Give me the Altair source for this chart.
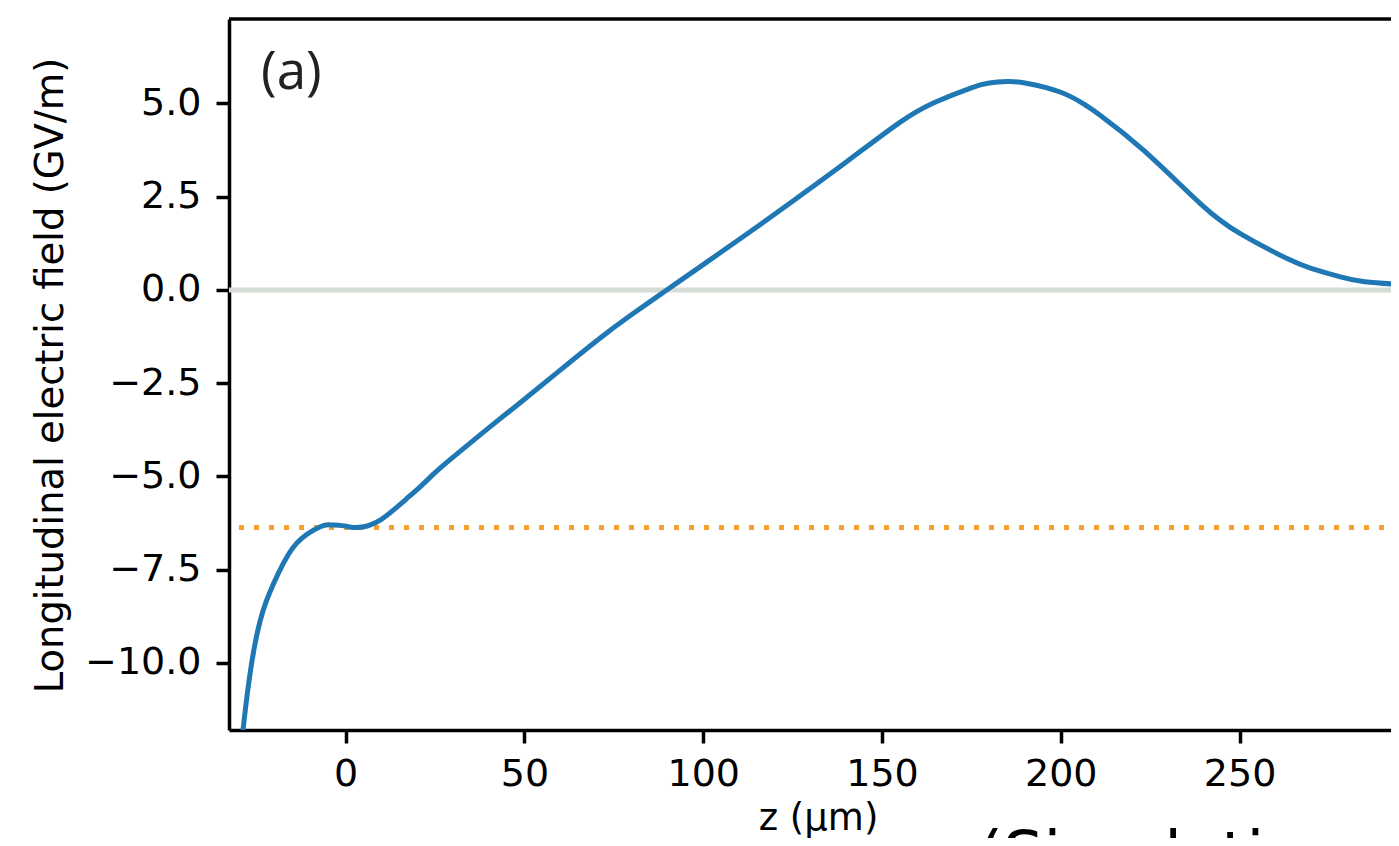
import altair as alt
import pandas as pd

# ---- data ----
z_um = [-29.3, -28.6, -26.3, -23.05, -18.85, -13.7, -7.1, -4.3, -1.0, 2.2,
        5.0, 6.9, 10.0, 13.4, 17.0, 20.8, 25.0, 30.2, 40.0, 50.0,
        60.0, 71.1, 80.0, 89.8, 100.0, 112.5, 125.3, 140.0, 155.1, 165.0,
        175.0, 180.0, 185.0, 190.0, 200.0, 207.0, 211.1, 223.2, 239.1, 250.2,
        263.3, 270.0, 278.2, 285.0, 294.6, 300.0]
ez_gvm = [-12.4, -11.7, -10.0, -8.58, -7.6, -6.79, -6.35, -6.30, -6.32, -6.37,
          -6.35, -6.30, -6.15, -5.90, -5.60, -5.28, -4.90, -4.47, -3.70, -2.93,
          -2.15, -1.295, -0.66, 0.0, 0.68, 1.52, 2.40, 3.43, 4.50, 5.04,
          5.42, 5.55, 5.59, 5.55, 5.30, 4.95, 4.68, 3.74, 2.31, 1.51,
          0.84, 0.58, 0.35, 0.22, 0.15, 0.13]
zero_level = [0.0]
ref_level = [-6.37]
x_ticks = [0, 50, 100, 150, 200, 250]
y_ticks = [-10.0, -7.5, -5.0, -2.5, 0.0, 2.5, 5.0]
x_domain = [-32.64, 294.6]
y_domain = [-11.80, 7.265]
panel_label = "(a)"
bottom_caption = "(Simulation data)"

df = pd.DataFrame({"z": z_um, "E": ez_gvm})
zero_df = pd.DataFrame({"E": zero_level})
ref_df = pd.DataFrame({"E": ref_level})

W, H = 1170, 711
FONT = "DejaVu Sans"

xscale = alt.Scale(domain=x_domain, nice=False, zero=False)
yscale = alt.Scale(domain=y_domain, nice=False, zero=False)

x_axis = alt.Axis(values=x_ticks, format="d", title="z (μm)",
                  domainColor="black", domainWidth=3.5,
                  tickColor="black", tickWidth=3.5, tickSize=13,
                  labelFont=FONT, labelFontSize=38, labelColor="black",
                  labelPadding=12, labelFlush=False,
                  titleFont=FONT, titleFontSize=37, titleFontWeight="normal",
                  titleColor="black", titleX=589, titleY=99,
                  titleBaseline="alphabetic", grid=False)
y_axis = alt.Axis(values=y_ticks, format=".1f",
                  title="Longitudinal electric field (GV/m)",
                  domainColor="black", domainWidth=3.5,
                  tickColor="black", tickWidth=3.5, tickSize=13,
                  labelFont=FONT, labelFontSize=38, labelColor="black",
                  labelPadding=15, labelFlush=False,
                  titleFont=FONT, titleFontSize=38.5, titleFontWeight="normal",
                  titleColor="black", titleAngle=270, titleX=-167, titleY=356,
                  titleBaseline="alphabetic", titleAlign="center", grid=False)

zero_rule = alt.Chart(zero_df).mark_rule(color="#d5dbd5", strokeWidth=5).encode(
    y=alt.Y("E:Q", scale=yscale, axis=y_axis)
)
ref_rule = alt.Chart(ref_df).mark_rule(color="#f5a033", strokeWidth=5,
                                        strokeDash=[5, 10]).encode(
    y=alt.Y("E:Q", scale=yscale)
)
line = alt.Chart(df).mark_line(color="#1f77b4", strokeWidth=5,
                               interpolate="natural", clip=True).encode(
    x=alt.X("z:Q", scale=xscale, axis=x_axis),
    y=alt.Y("E:Q", scale=yscale),
    order="z:Q",
)
top_border = alt.Chart(zero_df).mark_rule(color="black", strokeWidth=3.5).encode(
    y=alt.value(0)
)
label_a = alt.Chart(zero_df).mark_text(text=panel_label, font="Open Sans",
                                       fontSize=53, align="left",
                                       baseline="alphabetic", color="#222222").encode(
    x=alt.value(32), y=alt.value(70)
)
caption = alt.Chart(zero_df).mark_text(text=bottom_caption, font=FONT,
                                       fontSize=64, align="left",
                                       baseline="alphabetic", color="black").encode(
    x=alt.value(749), y=alt.value(858)
)

chart = alt.layer(zero_rule, ref_rule, line, top_border, label_a, caption).properties(
    width=W, height=H,
    autosize=alt.AutoSizeParams(type="none"),
    padding={"left": 221, "top": 11, "right": -8, "bottom": 108},
).configure_view(stroke=None).configure(background="white")

chart.save("out.html", embed_options={"renderer": "svg", "actions": False})
